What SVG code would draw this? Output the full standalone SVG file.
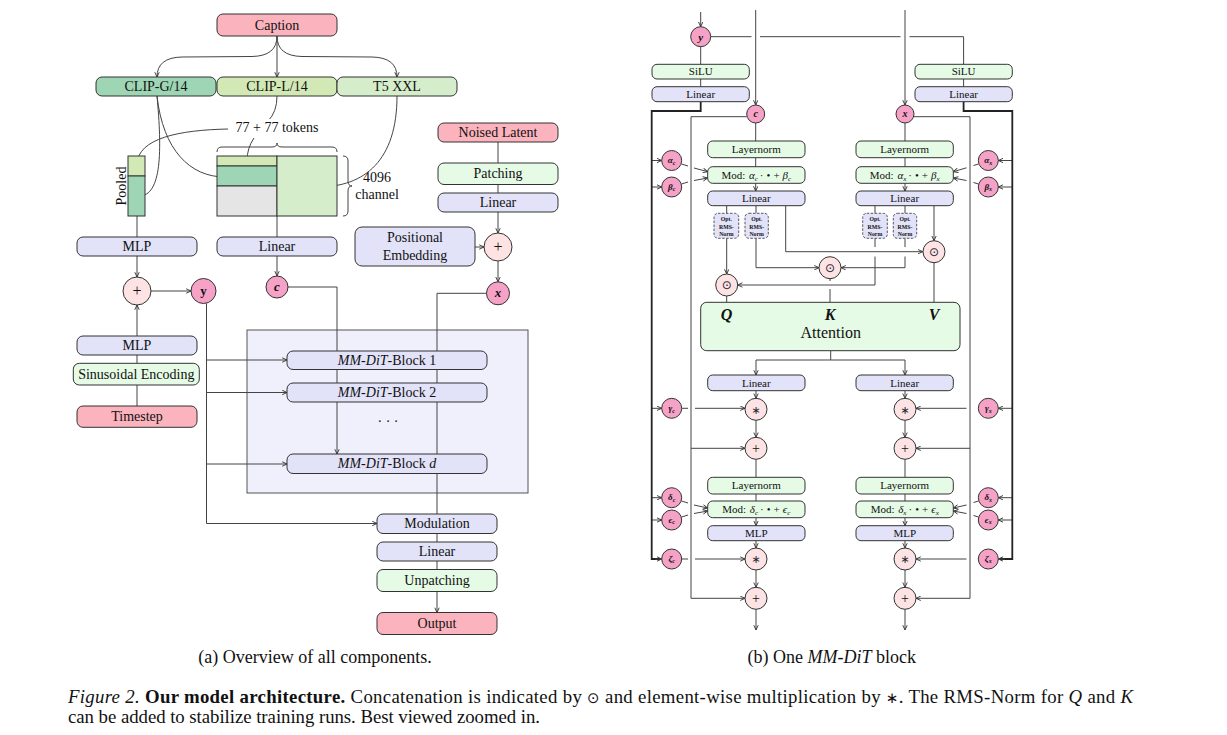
<svg xmlns="http://www.w3.org/2000/svg" width="1227" height="735" viewBox="0 0 1227 735">
<style>
.b{stroke:#333;stroke-width:1}
.pink{fill:#fbb3bd}
.lav{fill:#e2e2f8}
.mint{fill:#e5fbe5}
.cg{fill:#9ed5b4}
.cl{fill:#d3e9b5}
.t5{fill:#d6edcb}
.gr{fill:#e5e5e5}
.mc{fill:#f6a2c6;stroke:#333;stroke-width:1}
.op{fill:#fde3e3;stroke:#333;stroke-width:1}
.opt{fill:#e2e2f8;stroke:#556;stroke-width:1;stroke-dasharray:2.5 1.5}
.ln{fill:none;stroke:#444;stroke-width:1}
.bus{fill:none;stroke:#222;stroke-width:1.8}
.t{font-family:"Liberation Serif","Times New Roman",serif;fill:#111;text-anchor:middle}
.s14{font-size:14px}
.s11{font-size:11px}
.s8{font-size:9px;font-style:italic;font-weight:bold}
.sym{font-family:"DejaVu Sans",sans-serif;text-anchor:middle;fill:#223}
.i{font-style:italic}
</style>
<defs>
<marker id="ar" viewBox="0 0 6 6" refX="5.6" refY="3" markerWidth="5.5" markerHeight="5.5" orient="auto" markerUnits="userSpaceOnUse">
<path d="M0.4,0.6 L5.6,3 L0.4,5.4" fill="none" stroke="#333" stroke-width="1"/>
</marker>
</defs>
<rect width="1227" height="735" fill="#fff"/>

<!-- ============ LEFT PANEL ============ -->
<rect id="stack" x="247" y="330" width="281" height="163" fill="#f0f0fc" stroke="#555" stroke-width="1"/>

<g id="connectors-left" class="ln">
<path d="M277,36 V77" marker-end="url(#ar)"/>
<path d="M277,36 Q277,56 252,56.5 L182,57 Q157,57.5 157,77" marker-end="url(#ar)"/>
<path d="M277,36 Q277,56 302,56.5 L372,57 Q397,57.5 397,77" marker-end="url(#ar)"/>
<path d="M277,96 Q277,112 268,121"/>
<path d="M228,129 C180,130 137,138 137,165" marker-end="url(#ar)"/>
<path d="M254,138 Q247,148 247,161" marker-end="url(#ar)"/>
<path d="M157,96 C162,150 162,196 139,196" marker-end="url(#ar)"/>
<path d="M157,96 C163,150 190,177 225,177" marker-end="url(#ar)"/>
<path d="M397,96 C397,160 365,187 318,187" marker-end="url(#ar)"/>
<path d="M137,216 V237"/>
<path d="M277,216 V237"/>
<path d="M137,256 V277" marker-end="url(#ar)"/>
<path d="M151,291 H191" marker-end="url(#ar)"/>
<path d="M277,256 V276" marker-end="url(#ar)"/>
<path d="M288,287 H337 V454" marker-end="url(#ar)"/>
<path d="M486.5,293.3 H437 V514"/>
<path d="M498,142 V163"/>
<path d="M498,184.5 V193"/>
<path d="M498,212 V233" marker-end="url(#ar)"/>
<path d="M475,247 H484" marker-end="url(#ar)"/>
<path d="M498,261 V281.8" marker-end="url(#ar)"/>
<path d="M206.5,303.5 V523.5 H377" marker-end="url(#ar)"/>
<path d="M206.5,360 H287" marker-end="url(#ar)"/>
<path d="M206.5,392.5 H287" marker-end="url(#ar)"/>
<path d="M206.5,464 H287" marker-end="url(#ar)"/>
<path d="M437,533.5 V542"/>
<path d="M437,561 V569.5"/>
<path d="M437,591.5 V612.5" marker-end="url(#ar)"/>
<path d="M137,406 V385"/>
<path d="M137,363.3 V355"/>
<path d="M137,336 V305" marker-end="url(#ar)"/>
<path d="M217,152 Q217,147 222,147 L272,147 Q277,147 277,143 Q277,147 282,147 L332,147 Q337,147 337,152"/>
<path d="M343,156 Q348,156 348,161 L348,181 Q348,186 352,186 Q348,186 348,191 L348,211 Q348,216 343,216"/>
</g>

<g id="caption"><rect x="217" y="14" width="120" height="22" rx="6" class="pink b"/><text x="277" y="29.7" class="t s14">Caption</text></g>
<g id="clip-g"><rect x="96" y="77" width="120" height="19" rx="6" class="cg b"/><text x="156" y="91.2" class="t s14">CLIP-G/14</text></g>
<g id="clip-l"><rect x="217" y="77" width="120" height="19" rx="6" class="cl b"/><text x="277" y="91.2" class="t s14">CLIP-L/14</text></g>
<g id="t5"><rect x="337" y="77" width="120" height="19" rx="6" class="t5 b"/><text x="397" y="91.2" class="t s14">T5 XXL</text></g>
<g id="tokens-label"><rect x="232" y="119" width="90" height="16" fill="#fff"/><text x="277" y="132" class="t s14">77 + 77 tokens</text></g>
<g id="pooled">
<rect x="128" y="156" width="17" height="20" class="cl b"/>
<rect x="128" y="176" width="17" height="40" class="cg b"/>
<text x="0" y="0" class="t s14" transform="translate(125.5,186) rotate(-90)">Pooled</text>
</g>
<g id="token-block">
<rect x="217" y="156" width="60" height="10" class="cl b"/>
<rect x="217" y="166" width="60" height="20" class="cg b"/>
<rect x="217" y="186" width="60" height="30" class="gr b"/>
<rect x="277" y="156" width="60" height="60" class="t5 b"/>
</g>
<g id="channel-label"><text x="377" y="182" class="t s14">4096</text><text x="377" y="199" class="t s14">channel</text></g>
<g id="noised"><rect x="438" y="123" width="120" height="19" rx="6" class="pink b"/><text x="498" y="137.2" class="t s14">Noised Latent</text></g>
<g id="patching"><rect x="438" y="163" width="120" height="21.5" rx="6" class="mint b"/><text x="498" y="178.4" class="t s14">Patching</text></g>
<g id="linear-r"><rect x="438" y="193" width="120" height="19" rx="6" class="lav b"/><text x="498" y="207.2" class="t s14">Linear</text></g>
<g id="posemb"><rect x="355" y="227" width="120" height="39" rx="7" class="lav b"/><text x="415" y="242.4" class="t s14">Positional</text><text x="415" y="259.7" class="t s14">Embedding</text></g>
<g id="plus-r"><circle cx="498" cy="247" r="14" class="op"/><text x="498" y="252.3" class="t" font-size="16">+</text></g>
<g id="x-a"><circle cx="498" cy="293.3" r="11.5" class="mc"/><text x="498" y="297.3" class="t i" font-size="13" font-weight="bold">x</text></g>
<g id="mlp1"><rect x="77" y="237" width="120" height="19" rx="6" class="lav b"/><text x="137" y="251.2" class="t s14">MLP</text></g>
<g id="linear-m"><rect x="217" y="237" width="120" height="19" rx="6" class="lav b"/><text x="277" y="251.2" class="t s14">Linear</text></g>
<g id="plus-l"><circle cx="137" cy="291" r="14" class="op"/><text x="137" y="296.3" class="t" font-size="16">+</text></g>
<g id="y-a"><circle cx="203.5" cy="291" r="12.5" class="mc"/><text x="203.5" y="295" class="t" font-size="13" font-weight="bold">y</text></g>
<g id="c-a"><circle cx="277" cy="287" r="11" class="mc"/><text x="277" y="290.8" class="t i" font-size="13" font-weight="bold">c</text></g>
<g id="mlp2"><rect x="77" y="336" width="120" height="19" rx="6" class="lav b"/><text x="137" y="350.2" class="t s14">MLP</text></g>
<g id="sinus"><rect x="73.3" y="363.3" width="126" height="21.7" rx="6" class="mint b"/><text x="136.3" y="378.8" class="t s14">Sinusoidal Encoding</text></g>
<g id="timestep"><rect x="77" y="406" width="120" height="21.3" rx="6" class="pink b"/><text x="137" y="421.3" class="t s14">Timestep</text></g>
<g id="block1"><rect x="287" y="351" width="200" height="18.5" rx="6" class="lav b"/><text x="387" y="364.9" class="t s14"><tspan class="i">MM-DiT</tspan>-Block 1</text></g>
<g id="block2"><rect x="287" y="383" width="200" height="19" rx="6" class="lav b"/><text x="387" y="397.2" class="t s14"><tspan class="i">MM-DiT</tspan>-Block 2</text></g>
<g id="dots"><text x="388" y="426" class="t s14">· · ·</text></g>
<g id="blockd"><rect x="287" y="454" width="200" height="19.5" rx="6" class="lav b"/><text x="387" y="468.4" class="t s14"><tspan class="i">MM-DiT</tspan>-Block <tspan class="i">d</tspan></text></g>
<g id="modulation"><rect x="377" y="514" width="120" height="19.5" rx="6" class="lav b"/><text x="437" y="528.4" class="t s14">Modulation</text></g>
<g id="linear-b"><rect x="377" y="542" width="120" height="19" rx="6" class="lav b"/><text x="437" y="556.2" class="t s14">Linear</text></g>
<g id="unpatching"><rect x="377" y="569.5" width="120" height="22" rx="6" class="mint b"/><text x="437" y="585.2" class="t s14">Unpatching</text></g>
<g id="output"><rect x="377" y="612.5" width="120" height="22" rx="6" class="pink b"/><text x="437" y="628.2" class="t s14">Output</text></g>
<text x="315" y="662.5" class="t" font-size="18">(a) Overview of all components.</text>

<!-- ============ RIGHT PANEL ============ -->
<g id="connectors-right">
<g class="ln">
<path d="M700.7,12 V26.7" marker-end="url(#ar)"/>
<path d="M755.7,10 V105" marker-end="url(#ar)"/>
<path d="M905,10 V105" marker-end="url(#ar)"/>
<path d="M710.7,36.7 H751.5"/>
<path d="M760,36.7 H900.5"/>
<path d="M909.5,36.7 H963.6 V64.3"/>
<path d="M700.7,46.7 V64.3"/>
<path d="M700.7,79 V86.7"/>
<path d="M963.6,79 V86.7"/>
<path d="M746.7,116.7 H691 V598.3 H745" marker-end="url(#ar)"/>
<path d="M691,448.3 H745" marker-end="url(#ar)"/>
<path d="M914,116.7 H970 V598.3 H916" marker-end="url(#ar)"/>
<path d="M970,448.3 H916" marker-end="url(#ar)"/>
<path d="M755.7,123 V141"/>
<path d="M755.7,157.7 V166.7"/>
<path d="M755.7,183.3 V191" marker-end="url(#ar)"/>
<path d="M726.7,205.7 V213.3"/>
<path d="M756,205.7 V213.3"/>
<path d="M785.7,205.7 V251.7 H922.7" marker-end="url(#ar)"/>
<path d="M726.7,238.3 V274" marker-end="url(#ar)"/>
<path d="M756,238.3 V267.7 H819" marker-end="url(#ar)"/>
<path d="M905,123 V141"/>
<path d="M905,157.7 V166.7"/>
<path d="M905,183.3 V191" marker-end="url(#ar)"/>
<path d="M875,205.7 V213.3"/>
<path d="M905,205.7 V213.3"/>
<path d="M934,205.7 V240.7" marker-end="url(#ar)"/>
<path d="M875,238.3 V247"/>
<path d="M875,256.5 V285 H737.7" marker-end="url(#ar)"/>
<path d="M905,238.3 V247"/>
<path d="M905,256.5 V267.7 H841" marker-end="url(#ar)"/>
<path d="M830,278.7 V281"/>
<path d="M830,289 V302.3"/>
<path d="M726.7,296 V302.3"/>
<path d="M934,262.7 V302.3"/>
<path d="M830.7,350.7 V360 H756 V375" marker-end="url(#ar)"/>
<path d="M830.7,360 H905 V375" marker-end="url(#ar)"/>
<path d="M756,390.7 V398.3" marker-end="url(#ar)"/>
<path d="M756,420.3 V437.3" marker-end="url(#ar)"/>
<path d="M756,459.3 V477.3"/>
<path d="M756,494 V501"/>
<path d="M756,517.7 V525.7" marker-end="url(#ar)"/>
<path d="M756,540.7 V548" marker-end="url(#ar)"/>
<path d="M756,570 V587.3" marker-end="url(#ar)"/>
<path d="M756,609.3 V630" marker-end="url(#ar)"/>
<path d="M905,390.7 V398.3" marker-end="url(#ar)"/>
<path d="M905,420.3 V437.3" marker-end="url(#ar)"/>
<path d="M905,459.3 V477.3"/>
<path d="M905,494 V501"/>
<path d="M905,517.7 V525.7" marker-end="url(#ar)"/>
<path d="M905,540.7 V548" marker-end="url(#ar)"/>
<path d="M905,570 V587.3" marker-end="url(#ar)"/>
<path d="M905,609.3 V630" marker-end="url(#ar)"/>
<path d="M681.5,164 L688,166"/><path d="M694,168 L707.7,171.7" marker-end="url(#ar)"/>
<path d="M681.5,184 L688,182"/><path d="M694,180.5 L707.7,178" marker-end="url(#ar)"/>
<path d="M681.7,408.3 H688"/><path d="M695,408.3 H745" marker-end="url(#ar)"/>
<path d="M681.5,501 L688,503"/><path d="M694,505 L707.7,508" marker-end="url(#ar)"/>
<path d="M681.5,517 L688,515"/><path d="M694,513.5 L707.7,511" marker-end="url(#ar)"/>
<path d="M681.7,559 H688"/><path d="M695,559 H745" marker-end="url(#ar)"/>
<path d="M978.5,164 L973.5,165.5"/><path d="M966.5,167.8 L953.3,171.7" marker-end="url(#ar)"/>
<path d="M978.5,184 L973.5,182.5"/><path d="M966.5,180.5 L953.3,178" marker-end="url(#ar)"/>
<path d="M966.5,408.3 H916" marker-end="url(#ar)"/>
<path d="M978.5,501 L973.5,502.5"/><path d="M966.5,505 L953.3,508" marker-end="url(#ar)"/>
<path d="M978.5,517 L973.5,515.5"/><path d="M966.5,513.5 L953.3,511" marker-end="url(#ar)"/>
<path d="M966.5,559 H916" marker-end="url(#ar)"/>
<path d="M651.7,160.5 H661.7" marker-end="url(#ar)"/>
<path d="M651.7,187 H661.7" marker-end="url(#ar)"/>
<path d="M651.7,408.3 H661.7" marker-end="url(#ar)"/>
<path d="M651.7,497.7 H661.7" marker-end="url(#ar)"/>
<path d="M651.7,520 H661.7" marker-end="url(#ar)"/>
<path d="M1012.3,160.5 H998.3" marker-end="url(#ar)"/>
<path d="M1012.3,187 H998.3" marker-end="url(#ar)"/>
<path d="M1012.3,408.3 H998.3" marker-end="url(#ar)"/>
<path d="M1012.3,497.7 H998.3" marker-end="url(#ar)"/>
<path d="M1012.3,520 H998.3" marker-end="url(#ar)"/>
</g>
<path class="bus" d="M700.7,101.7 V111 H651.7 V559 H660"/>
<path class="ln" d="M655,559 H661.7" marker-end="url(#ar)"/>
<path class="bus" d="M963.6,101.7 V111 H1012.3 V559 H1000"/>
<path class="ln" d="M1005,559 H998.3" marker-end="url(#ar)"/>
</g>

<g id="y-b"><circle cx="700.7" cy="36.7" r="10" class="mc"/><text x="700.7" y="40.5" class="t i" font-size="11" font-weight="bold">y</text></g>
<g id="silu-l"><rect x="652" y="64.3" width="97.3" height="14.7" rx="5" class="mint b"/><text x="700.7" y="75.3" class="t s11">SiLU</text></g>
<g id="lin-l0"><rect x="652" y="86.7" width="97.3" height="15" rx="5" class="lav b"/><text x="700.7" y="97.8" class="t s11">Linear</text></g>
<g id="silu-r"><rect x="915" y="64.3" width="97.3" height="14.7" rx="5" class="mint b"/><text x="963.6" y="75.3" class="t s11">SiLU</text></g>
<g id="lin-r0"><rect x="915" y="86.7" width="97.3" height="15" rx="5" class="lav b"/><text x="963.6" y="97.8" class="t s11">Linear</text></g>
<g id="c-b"><circle cx="755.7" cy="114" r="9" class="mc"/><text x="755.7" y="117.3" class="t i" font-size="10" font-weight="bold">c</text></g>
<g id="x-b"><circle cx="905" cy="114" r="9" class="mc"/><text x="905" y="117.3" class="t i" font-size="10" font-weight="bold">x</text></g>

<g id="ln-c1"><rect x="707.7" y="141" width="97.3" height="16.7" rx="5" class="mint b"/><text x="756.3" y="153" class="t s11">Layernorm</text></g>
<g id="mod-c1"><rect x="707.7" y="166.7" width="97.3" height="16.6" rx="5" class="mint b"/><text x="756.3" y="178.7" class="t s11">Mod: <tspan class="i" dx="1">α</tspan><tspan class="i" font-size="7" dy="2">c</tspan><tspan dy="-2" dx="2">·</tspan><tspan dx="3">•</tspan><tspan dx="3">+</tspan><tspan class="i" dx="3">β</tspan><tspan class="i" font-size="7" dy="2">c</tspan></text></g>
<g id="lin-c1"><rect x="707.7" y="191" width="97.3" height="14.7" rx="5" class="lav b"/><text x="756.3" y="202" class="t s11">Linear</text></g>
<g id="ln-x1"><rect x="856" y="141" width="97.3" height="16.7" rx="5" class="mint b"/><text x="904.7" y="153" class="t s11">Layernorm</text></g>
<g id="mod-x1"><rect x="856" y="166.7" width="97.3" height="16.6" rx="5" class="mint b"/><text x="904.7" y="178.7" class="t s11">Mod: <tspan class="i" dx="1">α</tspan><tspan class="i" font-size="7" dy="2">x</tspan><tspan dy="-2" dx="2">·</tspan><tspan dx="3">•</tspan><tspan dx="3">+</tspan><tspan class="i" dx="3">β</tspan><tspan class="i" font-size="7" dy="2">x</tspan></text></g>
<g id="lin-x1"><rect x="856" y="191" width="97.3" height="14.7" rx="5" class="lav b"/><text x="904.7" y="202" class="t s11">Linear</text></g>

<g id="opt1"><rect x="714" y="213.3" width="24.7" height="25" rx="4" class="opt"/><text class="t" font-size="5.8" font-weight="bold"><tspan x="726.4" y="221">Opt.</tspan><tspan x="726.4" y="228.5">RMS-</tspan><tspan x="726.4" y="236">Norm</tspan></text></g>
<g id="opt2"><rect x="745" y="213.3" width="23.3" height="25" rx="4" class="opt"/><text class="t" font-size="5.8" font-weight="bold"><tspan x="756.7" y="221">Opt.</tspan><tspan x="756.7" y="228.5">RMS-</tspan><tspan x="756.7" y="236">Norm</tspan></text></g>
<g id="opt3"><rect x="862.7" y="213.3" width="24.6" height="25" rx="4" class="opt"/><text class="t" font-size="5.8" font-weight="bold"><tspan x="875" y="221">Opt.</tspan><tspan x="875" y="228.5">RMS-</tspan><tspan x="875" y="236">Norm</tspan></text></g>
<g id="opt4"><rect x="893.3" y="213.3" width="23.4" height="25" rx="4" class="opt"/><text class="t" font-size="5.8" font-weight="bold"><tspan x="905" y="221">Opt.</tspan><tspan x="905" y="228.5">RMS-</tspan><tspan x="905" y="236">Norm</tspan></text></g>

<g id="cat-q"><circle cx="726.7" cy="285" r="11" class="op"/><text x="726.7" y="289.2" class="sym" font-size="12" fill="#2b4a86">⊙</text></g>
<g id="cat-k"><circle cx="830" cy="267.7" r="11" class="op"/><text x="830" y="271.9" class="sym" font-size="12" fill="#2b4a86">⊙</text></g>
<g id="cat-v"><circle cx="934" cy="251.7" r="11" class="op"/><text x="934" y="255.9" class="sym" font-size="12" fill="#2b4a86">⊙</text></g>

<g id="attention"><rect x="700.7" y="302.3" width="259.3" height="48.4" rx="6" class="mint b"/>
<text x="726.5" y="320" class="t i" font-size="16" font-weight="bold">Q</text>
<text x="830" y="320" class="t i" font-size="16" font-weight="bold">K</text>
<text x="934" y="320" class="t i" font-size="16" font-weight="bold">V</text>
<text x="830.7" y="337.5" class="t" font-size="16">Attention</text></g>

<g id="lin-c2"><rect x="707.7" y="375" width="97.3" height="15.7" rx="5" class="lav b"/><text x="756.3" y="386.6" class="t s11">Linear</text></g>
<g id="lin-x2"><rect x="856" y="375" width="97.3" height="15.7" rx="5" class="lav b"/><text x="904.7" y="386.6" class="t s11">Linear</text></g>
<g id="mul-c1"><circle cx="756" cy="409.3" r="11" class="op"/><text x="756" y="413.6" class="sym" font-size="11">∗</text></g>
<g id="add-c1"><circle cx="756" cy="448.3" r="11" class="op"/><text x="756" y="453" class="t" font-size="14">+</text></g>
<g id="mul-x1"><circle cx="905" cy="409.3" r="11" class="op"/><text x="905" y="413.6" class="sym" font-size="11">∗</text></g>
<g id="add-x1"><circle cx="905" cy="448.3" r="11" class="op"/><text x="905" y="453" class="t" font-size="14">+</text></g>

<g id="ln-c2"><rect x="707.7" y="477.3" width="97.3" height="16.7" rx="5" class="mint b"/><text x="756.3" y="489.3" class="t s11">Layernorm</text></g>
<g id="mod-c2"><rect x="707.7" y="501" width="97.3" height="16.7" rx="5" class="mint b"/><text x="756.3" y="513" class="t s11">Mod: <tspan class="i" dx="1">δ</tspan><tspan class="i" font-size="7" dy="2">c</tspan><tspan dy="-2" dx="2">·</tspan><tspan dx="3">•</tspan><tspan dx="3">+</tspan><tspan class="i" dx="3">ϵ</tspan><tspan class="i" font-size="7" dy="2">c</tspan></text></g>
<g id="mlp-c"><rect x="707.7" y="525.7" width="97.3" height="15" rx="5" class="lav b"/><text x="756.3" y="536.9" class="t s11">MLP</text></g>
<g id="ln-x2"><rect x="856" y="477.3" width="97.3" height="16.7" rx="5" class="mint b"/><text x="904.7" y="489.3" class="t s11">Layernorm</text></g>
<g id="mod-x2"><rect x="856" y="501" width="97.3" height="16.7" rx="5" class="mint b"/><text x="904.7" y="513" class="t s11">Mod: <tspan class="i" dx="1">δ</tspan><tspan class="i" font-size="7" dy="2">x</tspan><tspan dy="-2" dx="2">·</tspan><tspan dx="3">•</tspan><tspan dx="3">+</tspan><tspan class="i" dx="3">ϵ</tspan><tspan class="i" font-size="7" dy="2">x</tspan></text></g>
<g id="mlp-x"><rect x="856" y="525.7" width="97.3" height="15" rx="5" class="lav b"/><text x="904.7" y="536.9" class="t s11">MLP</text></g>
<g id="mul-c2"><circle cx="756" cy="559" r="11" class="op"/><text x="756" y="563.3" class="sym" font-size="11">∗</text></g>
<g id="add-c2"><circle cx="756" cy="598.3" r="11" class="op"/><text x="756" y="603" class="t" font-size="14">+</text></g>
<g id="mul-x2"><circle cx="905" cy="559" r="11" class="op"/><text x="905" y="563.3" class="sym" font-size="11">∗</text></g>
<g id="add-x2"><circle cx="905" cy="598.3" r="11" class="op"/><text x="905" y="603" class="t" font-size="14">+</text></g>

<g id="alpha-c"><circle cx="671.7" cy="160.5" r="10" class="mc"/><text x="671.7" y="163.2" class="t s8">α<tspan font-size="6" dy="1.5">c</tspan></text></g>
<g id="beta-c"><circle cx="671.7" cy="187" r="10" class="mc"/><text x="671.7" y="189.7" class="t s8">β<tspan font-size="6" dy="1.5">c</tspan></text></g>
<g id="gamma-c"><circle cx="671.7" cy="408.3" r="10" class="mc"/><text x="671.7" y="411" class="t s8">γ<tspan font-size="6" dy="1.5">c</tspan></text></g>
<g id="delta-c"><circle cx="671.7" cy="497.7" r="10" class="mc"/><text x="671.7" y="500.4" class="t s8">δ<tspan font-size="6" dy="1.5">c</tspan></text></g>
<g id="eps-c"><circle cx="671.7" cy="520" r="10" class="mc"/><text x="671.7" y="522.7" class="t s8">ϵ<tspan font-size="6" dy="1.5">c</tspan></text></g>
<g id="zeta-c"><circle cx="671.7" cy="559" r="10" class="mc"/><text x="671.7" y="561.7" class="t s8">ζ<tspan font-size="6" dy="1.5">c</tspan></text></g>
<g id="alpha-x"><circle cx="988.3" cy="160.5" r="10" class="mc"/><text x="988.3" y="163.2" class="t s8">α<tspan font-size="6" dy="1.5">x</tspan></text></g>
<g id="beta-x"><circle cx="988.3" cy="187" r="10" class="mc"/><text x="988.3" y="189.7" class="t s8">β<tspan font-size="6" dy="1.5">x</tspan></text></g>
<g id="gamma-x"><circle cx="988.3" cy="408.3" r="10" class="mc"/><text x="988.3" y="411" class="t s8">γ<tspan font-size="6" dy="1.5">x</tspan></text></g>
<g id="delta-x"><circle cx="988.3" cy="497.7" r="10" class="mc"/><text x="988.3" y="500.4" class="t s8">δ<tspan font-size="6" dy="1.5">x</tspan></text></g>
<g id="eps-x"><circle cx="988.3" cy="520" r="10" class="mc"/><text x="988.3" y="522.7" class="t s8">ϵ<tspan font-size="6" dy="1.5">x</tspan></text></g>
<g id="zeta-x"><circle cx="988.3" cy="559" r="10" class="mc"/><text x="988.3" y="561.7" class="t s8">ζ<tspan font-size="6" dy="1.5">x</tspan></text></g>

<text x="831.7" y="662.5" class="t" font-size="18">(b) One <tspan class="i">MM-DiT</tspan> block</text>

<g id="figure-caption" font-family="Liberation Serif, Times New Roman, serif" font-size="18.8" fill="#111">
<text x="68" y="703" textLength="1065" lengthAdjust="spacing"><tspan font-style="italic">Figure 2.</tspan> <tspan font-weight="bold">Our model architecture.</tspan> Concatenation is indicated by <tspan font-family="DejaVu Sans, sans-serif" font-size="15">⊙</tspan> and element-wise multiplication by <tspan font-family="DejaVu Sans, sans-serif" font-size="15">∗</tspan>. The RMS-Norm for <tspan font-style="italic">Q</tspan> and <tspan font-style="italic">K</tspan></text>
<text x="68" y="723" textLength="472" lengthAdjust="spacing">can be added to stabilize training runs. Best viewed zoomed in.</text>
</g>
</svg>
